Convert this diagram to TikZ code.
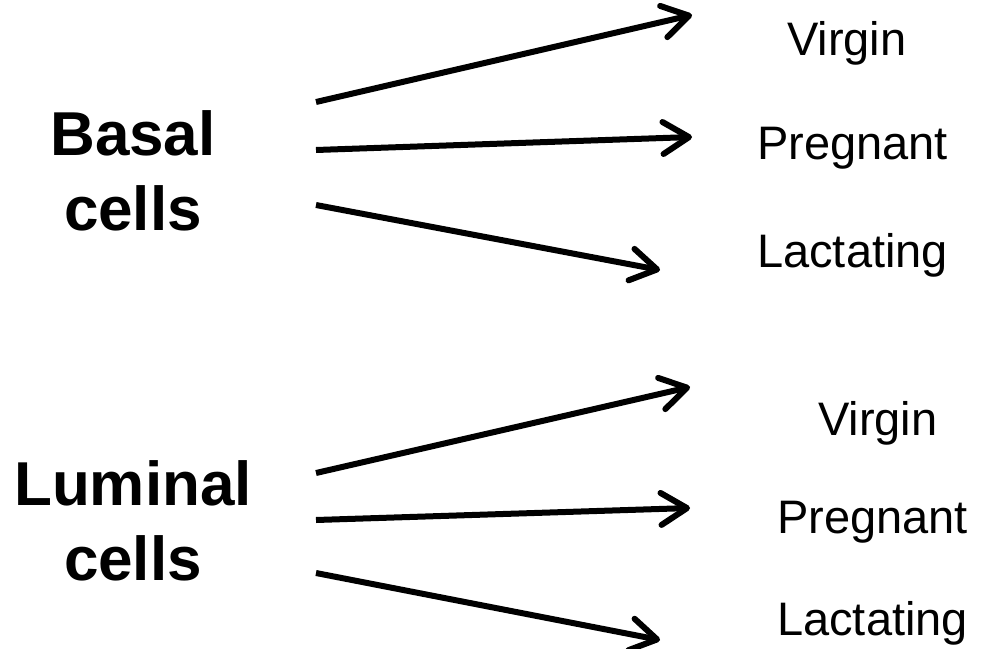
\documentclass[tikz,border=0pt]{standalone}
\usepackage{fontspec}
\setmainfont{Liberation Sans}
\usetikzlibrary{arrows.meta}

\begin{document}
\begin{tikzpicture}
[
    x=1pt, y=-1pt,
    cell/.style={font=\fontsize{62}{75}\selectfont\bfseries, align=center, inner sep=0pt, anchor=base},
    stage/.style={font=\fontsize{47}{56}\selectfont, inner sep=0pt, anchor=base west},
    flow/.style={line width=6pt, -{Straight Barb[length=26pt, width=32pt, round]}},
]
\useasboundingbox (0,0) rectangle (985,648);
\node [cell] (basal) at (133,230) {Basal\\cells};
\node [cell] (luminal) at (133,580) {Luminal\\cells};
\node [stage] (bvirgin) at (787,55) {Virgin};
\node [stage] (bpregnant) at (757,159) {Pregnant};
\node [stage] (blactating) at (757,267) {Lactating};
\node [stage] (lvirgin) at (818,435) {Virgin};
\node [stage] (lpregnant) at (777,533) {Pregnant};
\node [stage] (llactating) at (777,635) {Lactating};
\coordinate (b1) at (316,102);
\coordinate (b2) at (316,150);
\coordinate (b3) at (316,205);
\coordinate (l1) at (316,473);
\coordinate (l2) at (316,520);
\coordinate (l3) at (316,573);
\coordinate (bv) at (692,15);
\coordinate (bp) at (692,137);
\coordinate (bl) at (660,270);
\coordinate (lv) at (690,387);
\coordinate (lp) at (690,508);
\coordinate (ll) at (660,640);
\draw [flow] (b1) -- (bv);
\draw [flow] (b2) -- (bp);
\draw [flow] (b3) -- (bl);
\draw [flow] (l1) -- (lv);
\draw [flow] (l2) -- (lp);
\draw [flow] (l3) -- (ll);
\end{tikzpicture}
\end{document}
